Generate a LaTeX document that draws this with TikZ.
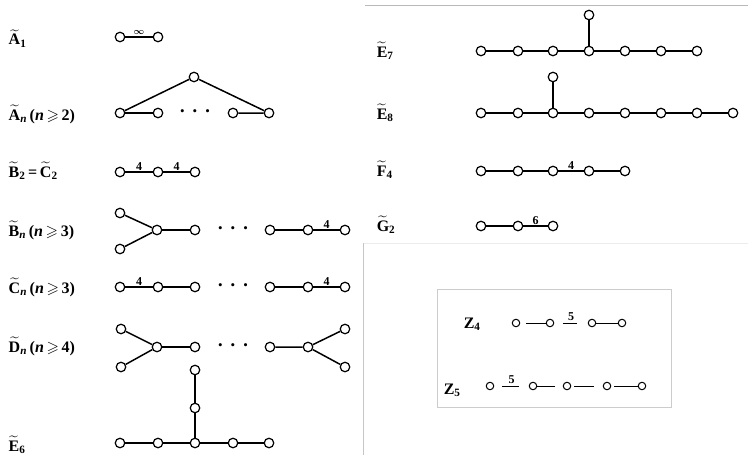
\documentclass[tikz,border=0pt]{standalone}
\usepackage{amsmath,amssymb}
\usepackage{fontspec}
\setmainfont{Liberation Serif}
\begin{document}
\begin{tikzpicture}[x=1pt,y=-1pt,line width=1.5pt,
    vert/.style={circle,draw,fill=white,line width=1.2pt,inner sep=0pt,minimum size=9.5pt},
    small vert/.style={vert,minimum size=7.5pt,line width=1pt},
    tag/.style={anchor=base west,inner sep=0pt,font=\fontsize{16}{18}\selectfont\bfseries},
    mult/.style={above=0pt,font=\fontsize{12}{14}\selectfont\bfseries,inner sep=1pt},
    etc/.style={font=\fontsize{13}{15}\selectfont,inner sep=0pt}]
  \useasboundingbox (0,0) rectangle (748,455);
  % panel lines
  \draw[gray!55,line width=0.8pt] (365,5) -- (748,5);
  \draw[gray!15,line width=0.8pt] (363,243) -- (748,243);
  \draw[gray!45,line width=0.8pt] (363,243) -- (363,455);
  \draw[gray!40,line width=0.6pt] (437,289) rectangle (671,407);

  % A_1
  \node[tag] (LA1) at (8,45) {$\widetilde{\textbf{A}}_{\textbf{1}}$};
  \node[vert] (A1) at (120,37) {};
  \node[vert] (A2) at (158,37) {};
  \draw (A1) -- node[above=-2pt,font=\small\bfseries]{$\boldsymbol{\infty}$} (A2);

  % A_n
  \node[tag] (LAn) at (8,120) {$\widetilde{\textbf{A}}_{\textbf{\textit{n}}}$\,(\textbf{\textit{n}}\,$\geqslant$\,\textbf{2})};
  \node[vert] (An1) at (120,113) {};
  \node[vert] (An2) at (158,113) {};
  \node[etc] (AnD) at (195,113) {\textbullet\hspace{8pt}\textbullet\hspace{8pt}\textbullet};
  \node[vert] (An3) at (233,113) {};
  \node[vert] (An4) at (269,113) {};
  \node[vert] (AnT) at (194,77) {};
  \draw (An1) -- (An2);
  \draw (An3) -- (An4) -- (AnT) -- (An1);

  % B_2 = C_2
  \node[tag] (LB2) at (8,177) {$\widetilde{\textbf{B}}_{\textbf{2}}$\,=\,$\widetilde{\textbf{C}}_{\textbf{2}}$};
  \node[vert] (B21) at (120,172) {};
  \node[vert] (B22) at (158,172) {};
  \node[vert] (B23) at (195,172) {};
  \draw (B21) -- node[mult]{4} (B22) -- node[mult]{4} (B23);

  % B_n
  \node[tag] (LBn) at (8,236) {$\widetilde{\textbf{B}}_{\textbf{\textit{n}}}$\,(\textbf{\textit{n}}\,$\geqslant$\,\textbf{3})};
  \node[vert] (Bn1) at (120,213) {};
  \node[vert] (Bn2) at (120,249) {};
  \node[vert] (Bn3) at (157,230) {};
  \node[vert] (Bn4) at (195,230) {};
  \node[etc] (BnD) at (233,230) {\textbullet\hspace{8pt}\textbullet\hspace{8pt}\textbullet};
  \node[vert] (Bn5) at (270,230) {};
  \node[vert] (Bn6) at (308,230) {};
  \node[vert] (Bn7) at (345,230) {};
  \draw (Bn1) -- (Bn3) -- (Bn2);
  \draw (Bn3) -- (Bn4);
  \draw (Bn5) -- (Bn6) -- node[mult]{4} (Bn7);

  % C_n
  \node[tag] (LCn) at (8,293) {$\widetilde{\textbf{C}}_{\textbf{\textit{n}}}$\,(\textbf{\textit{n}}\,$\geqslant$\,\textbf{3})};
  \node[vert] (Cn1) at (120,287) {};
  \node[vert] (Cn2) at (158,287) {};
  \node[vert] (Cn3) at (195,287) {};
  \node[etc] (CnD) at (233,287) {\textbullet\hspace{8pt}\textbullet\hspace{8pt}\textbullet};
  \node[vert] (Cn4) at (270,287) {};
  \node[vert] (Cn5) at (308,287) {};
  \node[vert] (Cn6) at (345,287) {};
  \draw (Cn1) -- node[mult]{4} (Cn2) -- (Cn3);
  \draw (Cn4) -- (Cn5) -- node[mult]{4} (Cn6);

  % D_n
  \node[tag] (LDn) at (8,352) {$\widetilde{\textbf{D}}_{\textbf{\textit{n}}}$\,(\textbf{\textit{n}}\,$\geqslant$\,\textbf{4})};
  \node[vert] (Dn1) at (121,329) {};
  \node[vert] (Dn2) at (121,367) {};
  \node[vert] (Dn3) at (157,347) {};
  \node[vert] (Dn4) at (195,347) {};
  \node[etc] (DnD) at (233,347) {\textbullet\hspace{8pt}\textbullet\hspace{8pt}\textbullet};
  \node[vert] (Dn5) at (270,347) {};
  \node[vert] (Dn6) at (308,347) {};
  \node[vert] (Dn7) at (345,329) {};
  \node[vert] (Dn8) at (345,367) {};
  \draw (Dn1) -- (Dn3) -- (Dn2);
  \draw (Dn3) -- (Dn4);
  \draw (Dn5) -- (Dn6) -- (Dn7);
  \draw (Dn6) -- (Dn8);

  % E_6
  \node[tag] (LE6) at (8,451) {$\widetilde{\textbf{E}}_{\textbf{6}}$};
  \node[vert] (E61) at (120,443) {};
  \node[vert] (E62) at (158,443) {};
  \node[vert] (E63) at (195,443) {};
  \node[vert] (E64) at (233,443) {};
  \node[vert] (E65) at (269,443) {};
  \node[vert] (E66) at (195,408) {};
  \node[vert] (E67) at (195,370) {};
  \draw (E61) -- (E62) -- (E63) -- (E64) -- (E65);
  \draw (E63) -- (E66) -- (E67);

  % E_7
  \node[tag] (LE7) at (376,57) {$\widetilde{\textbf{E}}_{\textbf{7}}$};
  \node[vert] (E71) at (481,51) {};
  \node[vert] (E72) at (518,51) {};
  \node[vert] (E73) at (553,51) {};
  \node[vert] (E74) at (589,51) {};
  \node[vert] (E75) at (625,51) {};
  \node[vert] (E76) at (661,51) {};
  \node[vert] (E77) at (697,51) {};
  \node[vert] (E78) at (589,15) {};
  \draw (E71) -- (E72) -- (E73) -- (E74) -- (E75) -- (E76) -- (E77);
  \draw (E74) -- (E78);

  % E_8
  \node[tag] (LE8) at (376,119) {$\widetilde{\textbf{E}}_{\textbf{8}}$};
  \node[vert] (E81) at (481,113) {};
  \node[vert] (E82) at (518,113) {};
  \node[vert] (E83) at (553,113) {};
  \node[vert] (E84) at (589,113) {};
  \node[vert] (E85) at (625,113) {};
  \node[vert] (E86) at (661,113) {};
  \node[vert] (E87) at (697,113) {};
  \node[vert] (E88) at (733,113) {};
  \node[vert] (E89) at (553,77) {};
  \draw (E81) -- (E82) -- (E83) -- (E84) -- (E85) -- (E86) -- (E87) -- (E88);
  \draw (E83) -- (E89);

  % F_4
  \node[tag] (LF4) at (376,176) {$\widetilde{\textbf{F}}_{\textbf{4}}$};
  \node[vert] (F41) at (481,171) {};
  \node[vert] (F42) at (518,171) {};
  \node[vert] (F43) at (553,171) {};
  \node[vert] (F44) at (589,171) {};
  \node[vert] (F45) at (625,171) {};
  \draw (F41) -- (F42) -- (F43) -- node[mult]{4} (F44) -- (F45);

  % G_2
  \node[tag] (LG2) at (376,231) {$\widetilde{\textbf{G}}_{\textbf{2}}$};
  \node[vert] (G21) at (481,226) {};
  \node[vert] (G22) at (518,226) {};
  \node[vert] (G23) at (553,226) {};
  \draw (G21) -- (G22) -- node[mult]{6} (G23);

  % Z_4 and Z_5
  \node[tag] (LZ4) at (463,328) {Z$_{\textbf{4}}$};
  \node[small vert] (Z41) at (516,323) {};
  \node[small vert] (Z42) at (550,323) {};
  \node[small vert] (Z43) at (592,323) {};
  \node[small vert] (Z44) at (622,323) {};
  \draw[line width=1pt,shorten <=6pt] (Z41) -- (Z42);
  \draw[line width=1pt,shorten <=9pt,shorten >=11pt] (Z42) -- node[mult,above=1pt]{5} (Z43);
  \draw[line width=1pt] (Z43) -- (Z44);

  \node[tag] (LZ5) at (443,394) {Z$_{\textbf{5}}$};
  \node[small vert] (Z51) at (490,386) {};
  \node[small vert] (Z52) at (533,386) {};
  \node[small vert] (Z53) at (567,386) {};
  \node[small vert] (Z54) at (607,386) {};
  \node[small vert] (Z55) at (642,386) {};
  \draw[line width=1pt,shorten <=8pt,shorten >=10pt] (Z51) -- node[mult,above=1pt]{5} (Z52);
  \draw[line width=1pt,shorten >=8pt] (Z52) -- (Z53);
  \draw[line width=1pt,shorten <=3pt,shorten >=9pt] (Z53) -- (Z54);
  \draw[line width=1pt,shorten <=3pt] (Z54) -- (Z55);
\end{tikzpicture}
\end{document}
